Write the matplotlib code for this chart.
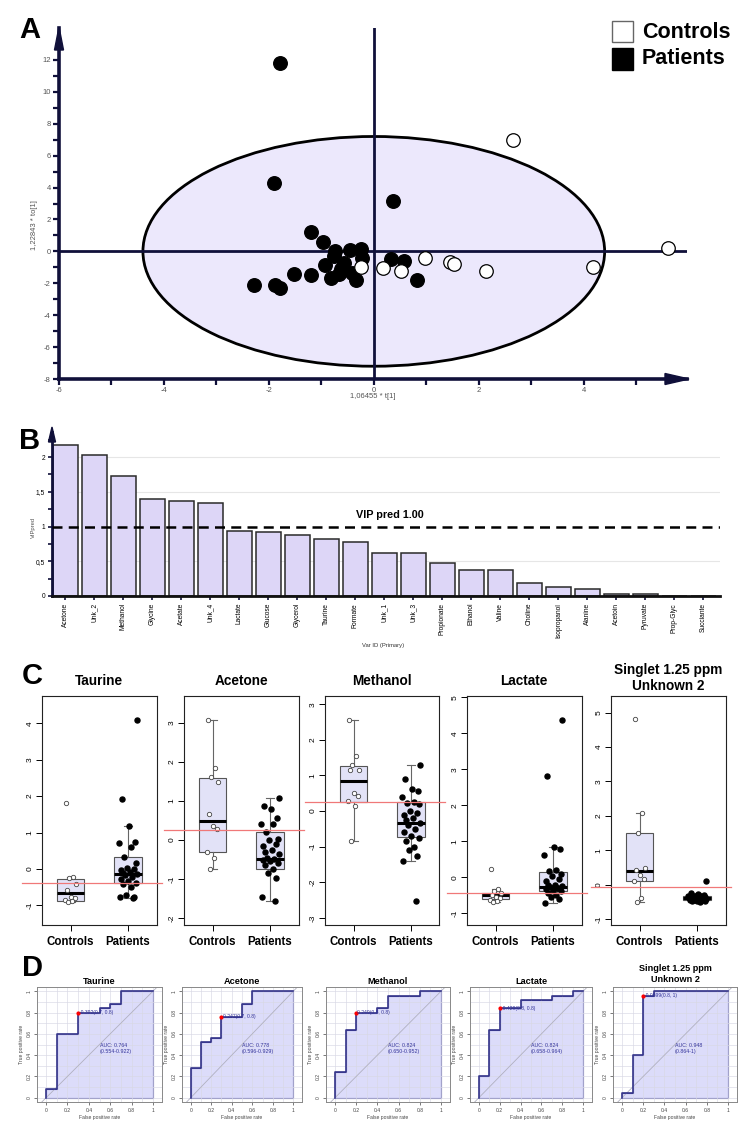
import matplotlib
matplotlib.use('Agg')
import matplotlib.pyplot as plt
from matplotlib.patches import Ellipse, Rectangle, Polygon
import numpy as np

plt.rcParams['font.family'] = ['Liberation Sans', 'DejaVu Sans']
plt.rcParams['axes.unicode_minus'] = False

# ---------------- DATA ----------------
# Panel A: OPLS-DA scores
patients_t = [-1.78, -1.91, 0.37, -1.19, -0.96, -0.73, -0.76, -0.46, -0.24, -0.22, -0.56, -0.93, -0.62,
              -0.66, -0.81, -0.41, -0.34, -1.19, -1.52, -2.29, -1.89, -1.78, 0.33, 0.58, 0.82]
patients_to = [11.8, 4.28, 3.14, 1.24, 0.57, 0.05, -0.29, 0.09, 0.13, -0.43, -0.75, -0.87, -1.12,
               -1.44, -1.69, -1.37, -1.79, -1.48, -1.44, -2.11, -2.11, -2.27, -0.46, -0.62, -1.79]
controls_t = [-0.25, 0.17, 0.52, 0.98, 1.46, 1.52, 2.14, 4.18, 5.61, 2.65]
controls_to = [-0.96, -1.06, -1.21, -0.39, -0.64, -0.81, -1.23, -0.96, 0.21, 6.98]
ellipse_t = 4.4
ellipse_to = 7.2

# Panel B: VIP pred
vip_names = ['Acetone', 'Unk_2', 'Methanol', 'Glycine', 'Acetate', 'Unk_4', 'Lactate', 'Glucose',
             'Glycerol', 'Taurine', 'Formate', 'Unk_1', 'Unk_3', 'Propionate', 'Ethanol', 'Valine',
             'Choline', 'Isopropanol', 'Alanine', 'Acetoin', 'Pyruvate', 'Prop-Glyc', 'Succiante']
vip_values = [2.18, 2.03, 1.72, 1.39, 1.37, 1.34, 0.93, 0.92, 0.88, 0.82, 0.78, 0.62, 0.62, 0.47,
              0.375, 0.375, 0.18, 0.125, 0.10, 0.035, 0.025, 0.006, 0.004]
vip_cut = 1.0

# Panel C: boxplots (whislo, q1, med, q3, whishi) per group
box_titles = ['Taurine', 'Acetone', 'Methanol', 'Lactate', 'Singlet 1.25 ppm\nUnknown 2']
groups = ['Controls', 'Patients']
ctl_stats = [(-0.90, -0.87, -0.65, -0.29, -0.22),
             (-0.74, -0.32, 0.49, 1.59, 3.08),
             (-0.84, 0.26, 0.83, 1.27, 2.57),
             (-0.69, -0.60, -0.49, -0.44, -0.31),
             (-0.50, 0.11, 0.39, 1.50, 2.08)]
pat_stats = [(-0.81, -0.40, -0.14, 0.32, 1.17),
             (-1.57, -0.75, -0.49, 0.20, 1.07),
             (-1.41, -0.73, -0.35, 0.24, 1.28),
             (-0.70, -0.38, -0.26, 0.14, 0.86),
             (-0.50, -0.45, -0.38, -0.33, -0.25)]
taurine_ctl = [1.80, -0.22, -0.26, -0.41, -0.58, -0.76, -0.80, -0.84, -0.88, -0.90]
taurine_pat = [4.08, 1.92, 1.17, 0.75, 0.70, 0.60, 0.34, 0.16, 0.02, 0.0, -0.03, -0.08, -0.12,
               -0.15, -0.18, -0.22, -0.27, -0.32, -0.38, -0.42, -0.50, -0.72, -0.76, -0.78, -0.81]
acetone_ctl = [3.08, 1.85, 1.61, 1.49, 0.66, 0.36, 0.29, -0.32, -0.45, -0.74]
acetone_pat = [1.07, 0.87, 0.80, 0.55, 0.42, 0.40, 0.20, 0.02, 0.0, -0.10, -0.15, -0.25, -0.30,
               -0.35, -0.45, -0.50, -0.52, -0.55, -0.60, -0.65, -0.75, -0.85, -0.98, -1.45, -1.57]
methanol_ctl = [2.57, 1.55, 1.29, 1.16, 1.14, 0.52, 0.41, 0.28, 0.15, -0.84]
methanol_pat = [1.28, 0.90, 0.63, 0.55, 0.40, 0.25, 0.22, 0.20, 0.0, -0.05, -0.10, -0.20, -0.25,
                -0.35, -0.40, -0.50, -0.60, -0.70, -0.75, -0.85, -1.00, -1.10, -1.25, -1.41, -2.54]
lactate_ctl = [0.24, -0.31, -0.38, -0.44, -0.48, -0.54, -0.58, -0.62, -0.66, -0.69]
lactate_pat = [4.37, 2.82, 0.86, 0.80, 0.62, 0.20, 0.18, 0.10, 0.05, -0.05, -0.10, -0.20, -0.22,
               -0.25, -0.27, -0.30, -0.32, -0.35, -0.38, -0.42, -0.50, -0.55, -0.60, -0.70, -0.28]
singlet_ctl = [4.80, 2.08, 1.50, 0.49, 0.44, 0.28, 0.17, 0.10, -0.38, -0.50]
singlet_pat = [0.10, -0.25, -0.28, -0.30, -0.32, -0.34, -0.35, -0.36, -0.37, -0.38, -0.39, -0.40,
               -0.41, -0.42, -0.43, -0.44, -0.45, -0.46, -0.47, -0.48, -0.50, -0.33, -0.36, -0.40, -0.44]
ctl_points = [taurine_ctl, acetone_ctl, methanol_ctl, lactate_ctl, singlet_ctl]
pat_points = [taurine_pat, acetone_pat, methanol_pat, lactate_pat, singlet_pat]
thresholds = [-0.392, 0.247, 0.249, -0.429, -0.0599]

# Panel D: ROC curves
roc_titles = ['Taurine', 'Acetone', 'Methanol', 'Lactate', 'Singlet 1.25 ppm\nUnknown 2']
roc_fpr = [[0, 0, 0.1, 0.1, 0.3, 0.3, 0.5, 0.5, 0.6, 0.6, 0.7, 0.7, 1],
           [0, 0, 0.1, 0.1, 0.2, 0.2, 0.3, 0.3, 0.5, 0.5, 0.6, 0.6, 1],
           [0, 0, 0.1, 0.1, 0.2, 0.2, 0.4, 0.4, 0.5, 0.5, 0.8, 0.8, 1],
           [0, 0, 0.1, 0.1, 0.2, 0.2, 0.4, 0.4, 0.7, 0.7, 0.9, 0.9, 1],
           [0, 0, 0.1, 0.1, 0.2, 0.2, 0.3, 0.3, 1]]
roc_tpr = [[0, 0.08, 0.08, 0.6, 0.6, 0.8, 0.8, 0.84, 0.84, 0.88, 0.88, 1, 1],
           [0, 0.28, 0.28, 0.52, 0.52, 0.56, 0.56, 0.76, 0.76, 0.88, 0.88, 1, 1],
           [0, 0.24, 0.24, 0.64, 0.64, 0.8, 0.8, 0.84, 0.84, 0.96, 0.96, 1, 1],
           [0, 0.2, 0.2, 0.64, 0.64, 0.84, 0.84, 0.92, 0.92, 0.96, 0.96, 1, 1],
           [0, 0.04, 0.04, 0.4, 0.4, 0.96, 0.96, 1, 1]]
best_fpr = [0.3, 0.3, 0.2, 0.2, 0.2]
best_tpr = [0.8, 0.76, 0.8, 0.84, 0.96]
best_spec_sens = ['(0.7, 0.8)', '(0.7, 0.8)', '(0.8, 0.8)', '(0.8, 0.8)', '(0.8, 1)']
auc_values = ['0.764', '0.778', '0.824', '0.824', '0.948']
auc_ci = ['(0.554-0.922)', '(0.596-0.929)', '(0.650-0.952)', '(0.658-0.964)', '(0.864-1)']

# fixed jitter pattern (relative offsets)
JIT = [-0.8, 0.5, -0.2, 0.9, -0.6, 0.1, 0.7, -0.95, 0.3, -0.4, 0.85, -0.05, 0.6, -0.75, 0.25,
       -0.45, 0.95, -0.3, 0.45, -0.7, 0.05, 0.8, -0.55, 0.35, -0.15, 0.65]
JIT2 = JIT + JIT

# ---------------- FIGURE ----------------
W, H = 756, 1127
fig = plt.figure(figsize=(W / 100, H / 100), dpi=100)
NAVY = '#10103a'


def rect(x0, y0, x1, y1):
    return [x0 / W, 1 - y1 / H, (x1 - x0) / W, (y1 - y0) / H]


# ---- Panel A ----
axA = fig.add_axes(rect(59, 28, 687, 379))
axA.set_xlim(-6, 5.97)
axA.set_ylim(-8, 14.0)
axA.add_patch(Ellipse((0, 0), 2 * ellipse_t, 2 * ellipse_to, facecolor='#ece8fc',
                      edgecolor='black', lw=2, zorder=1))
axA.axhline(0, color=NAVY, lw=2, zorder=2)
axA.axvline(0, color=NAVY, lw=2, zorder=2)
axA.scatter(patients_t, patients_to, s=95, c='black', edgecolors='black', zorder=4)
axA.scatter(controls_t, controls_to, s=95, c='white', edgecolors='black', linewidths=0.9, zorder=4)
for s in ['top', 'right']:
    axA.spines[s].set_visible(False)
for s in ['left', 'bottom']:
    axA.spines[s].set_color(NAVY)
    axA.spines[s].set_linewidth(2.6)
axA.set_xticks([-6, -4, -2, 0, 2, 4])
axA.set_xticks([-5, -3, -1, 1, 3, 5], minor=True)
axA.set_yticks(list(range(-8, 13, 2)))
axA.set_yticks(list(range(-7, 12, 2)), minor=True)
axA.tick_params(which='both', direction='out', length=4, width=1.6, color=NAVY,
                labelsize=5.5, labelcolor='#555555', pad=2)
axA.set_facecolor('none')

# ---- Panel B ----
axB = fig.add_axes(rect(52, 432, 720, 596))
xb = np.arange(len(vip_values))
axB.set_xlim(-0.46, len(vip_values) - 0.43)
axB.set_ylim(0, 2.36)
for gy in [0.5, 1.5, 2.0]:
    axB.axhline(gy, color='#e6e6e6', lw=0.8, zorder=0)
axB.bar(xb, vip_values, width=0.88, color='#ddd6f7', edgecolor='#2a2a2a', lw=1.1, zorder=2)
axB.axhline(vip_cut, color='black', ls=(0, (4, 2.5)), lw=1.8, zorder=3)
axB.set_xticks(xb)
axB.set_xticklabels(vip_names, rotation=90, fontsize=4.2)
axB.set_yticks([0, 0.5, 1, 1.5, 2])
axB.set_yticklabels(['0', '0,5', '1', '1,5', '2'])
axB.set_yticks(np.arange(0.25, 2.3, 0.5), minor=True)
axB.tick_params(which='both', direction='out', length=3, width=1.2, color=NAVY, labelsize=4.8, pad=2)
for s in ['top', 'right']:
    axB.spines[s].set_visible(False)
axB.spines['left'].set_color(NAVY)
axB.spines['left'].set_linewidth(2)
axB.spines['bottom'].set_color('#111111')
axB.spines['bottom'].set_linewidth(2)
axB.set_facecolor('none')

# ---- Panel C ----
c_lefts = [42, 184, 325, 467, 611]
c_ylims = [(-1.54, 4.75), (-2.18, 3.69), (-3.2, 3.23), (-1.32, 5.04), (-1.17, 5.48)]
c_yticks = [range(-1, 5), range(-2, 4), range(-3, 4), range(-1, 6), range(-1, 6)]
for i in range(5):
    ax = fig.add_axes(rect(c_lefts[i], 696, c_lefts[i] + 114.5, 925))
    ax.set_xlim(0.5, 2.5)
    ax.set_ylim(*c_ylims[i])
    stats = []
    for st in (ctl_stats[i], pat_stats[i]):
        stats.append(dict(whislo=st[0], q1=st[1], med=st[2], q3=st[3], whishi=st[4]))
    ax.bxp(stats, positions=[1, 2], widths=0.48, patch_artist=True, showfliers=False,
           boxprops=dict(facecolor='#e2e2f7', edgecolor='#555555', lw=0.8),
           medianprops=dict(color='black', lw=2.2),
           whiskerprops=dict(color='#666666', lw=0.8),
           capprops=dict(color='#666666', lw=0.8), capwidths=0.14)
    cp = ctl_points[i]
    pp = pat_points[i]
    ax.scatter(1 + 0.10 * np.array(JIT2[:len(cp)]), cp, s=10, facecolors='white',
               edgecolors='#444444', linewidths=0.6, zorder=3)
    ax.scatter(2 + 0.17 * np.array(JIT2[3:3 + len(pp)]), pp, s=13, c='black', zorder=3)
    ax.plot([0.15, 2.59], [thresholds[i], thresholds[i]], color='#f07878', lw=0.9,
            clip_on=False, zorder=4)
    ax.set_xticks([1, 2])
    ax.set_xticklabels(groups, fontweight='bold', fontsize=8.3)
    ax.set_yticks(list(c_yticks[i]))
    ax.tick_params(axis='y', labelrotation=90, labelsize=6, length=4, width=0.7, pad=2)
    ax.tick_params(axis='x', length=4, width=0.7, pad=4)
    for lab in ax.get_yticklabels():
        lab.set_va('center')
    for s in ax.spines.values():
        s.set_linewidth(0.8)
        s.set_color('#222222')

# ---- Panel D ----
d_lefts = [37, 182, 326, 470, 613]
d_rights = [162, 302, 450, 592, 737]
for i in range(5):
    ax = fig.add_axes(rect(d_lefts[i], 987, d_rights[i], 1102))
    ax.set_xlim(-0.085, 1.085)
    ax.set_ylim(-0.04, 1.04)
    fpr = roc_fpr[i]
    tpr = roc_tpr[i]
    ax.fill(list(fpr) + [1, 0], list(tpr) + [0, 0], facecolor='#dcdcfa', edgecolor='#4a4aa0',
            lw=0.8, zorder=1)
    for g in np.arange(0, 1.001, 0.1):
        ax.axvline(g, color='#d8d8e4', lw=0.45, zorder=1.5)
        ax.axhline(g, color='#d8d8e4', lw=0.45, zorder=1.5)
    ax.axline((0, 0), (1, 1), color='#b0b0c0', lw=0.6, zorder=1.6)
    ax.plot(fpr, tpr, color='#34348a', lw=1.2, zorder=3)
    ax.plot([best_fpr[i]], [best_tpr[i]], 'o', color='red', ms=2, zorder=4)
    ax.text(best_fpr[i] + 0.01, best_tpr[i], f'{thresholds[i]:g}{best_spec_sens[i]}',
            fontsize=3.6, color='#333399', va='center', ha='left', zorder=5)
    ax.text(0.5, 0.46, f'AUC: {auc_values[i]}\n{auc_ci[i]}', fontsize=3.8, color='#333399',
            va='center', ha='left', zorder=5, linespacing=1.2)
    ticks = [0, 0.2, 0.4, 0.6, 0.8, 1]
    ax.set_xticks(ticks)
    ax.set_xticklabels(['0', '0.2', '0.4', '0.6', '0.8', '1'])
    ax.set_yticks(ticks)
    ax.set_yticklabels(['0', '0.2', '0.4', '0.6', '0.8', '1'])
    ax.tick_params(labelsize=3.6, length=2, width=0.5, pad=2, colors='#444444')
    ax.tick_params(axis='y', labelrotation=90)
    for lab in ax.get_yticklabels():
        lab.set_va('center')
    ax.set_xlabel('False positive rate', fontsize=3.6, labelpad=2, color='#444444')
    ax.set_ylabel('True positive rate', fontsize=3.6, labelpad=2, color='#444444')
    for s in ax.spines.values():
        s.set_linewidth(0.7)
        s.set_color('#888888')

# ---- Overlay for labels, arrows, legend ----
ov = fig.add_axes([0, 0, 1, 1])
ov.set_xlim(0, W)
ov.set_ylim(H, 0)
ov.axis('off')
ov.patch.set_alpha(0)

# arrowheads
ov.add_patch(Polygon([(59, 27), (54.5, 50), (63.5, 50)], closed=True, color=NAVY))
ov.add_patch(Polygon([(689, 379), (665, 373.5), (665, 384.5)], closed=True, color=NAVY))
ov.add_patch(Polygon([(52, 427), (48.5, 442), (55.5, 442)], closed=True, color=NAVY))

# panel letters
for letter, (lx, ly) in zip('ABCD', [(19, 30), (19, 441), (22, 676), (22, 968)]):
    ov.text(lx, ly, letter, fontsize=21, fontweight='bold', va='center', ha='left')

# legend A
ov.add_patch(Rectangle((612, 21), 21, 21, facecolor='white', edgecolor='#666666', lw=1))
ov.add_patch(Rectangle((612, 48), 21, 22, facecolor='black', edgecolor='black', lw=1))
ov.text(642, 32, 'Controls', fontsize=15.5, fontweight='bold', va='center', ha='left')
ov.text(642, 59, 'Patients', fontsize=15.5, fontweight='bold', va='center', ha='left')

# axis labels A
ov.text(373, 396, '1,06455 * t[1]', fontsize=5.5, color='#555555', ha='center', va='center')
ov.text(34, 225, '1,22843 * to[1]', fontsize=5.5, color='#555555', ha='center', va='center',
        rotation=90)

# B labels
ov.text(390, 515, 'VIP pred 1.00', fontsize=7.8, fontweight='bold', ha='center', va='center')
ov.text(33, 527, 'VIPpred', fontsize=4.2, color='#555555', ha='center', va='center', rotation=90)
ov.text(383, 645, 'Var ID (Primary)', fontsize=4.2, color='#333333', ha='center', va='center')

# C titles
for i in range(5):
    cx = c_lefts[i] + 114.5 / 2
    ov.text(cx, 681 if i < 4 else 678, box_titles[i], fontsize=9.8, fontweight='bold',
            ha='center', va='center', linespacing=1.15)

# D titles
for i in range(5):
    cx = (d_lefts[i] + d_rights[i]) / 2
    ov.text(cx, 981 if i < 4 else 974, roc_titles[i], fontsize=6.6, fontweight='bold',
            ha='center', va='center', linespacing=1.15)

fig.savefig('out.png', dpi=100)
